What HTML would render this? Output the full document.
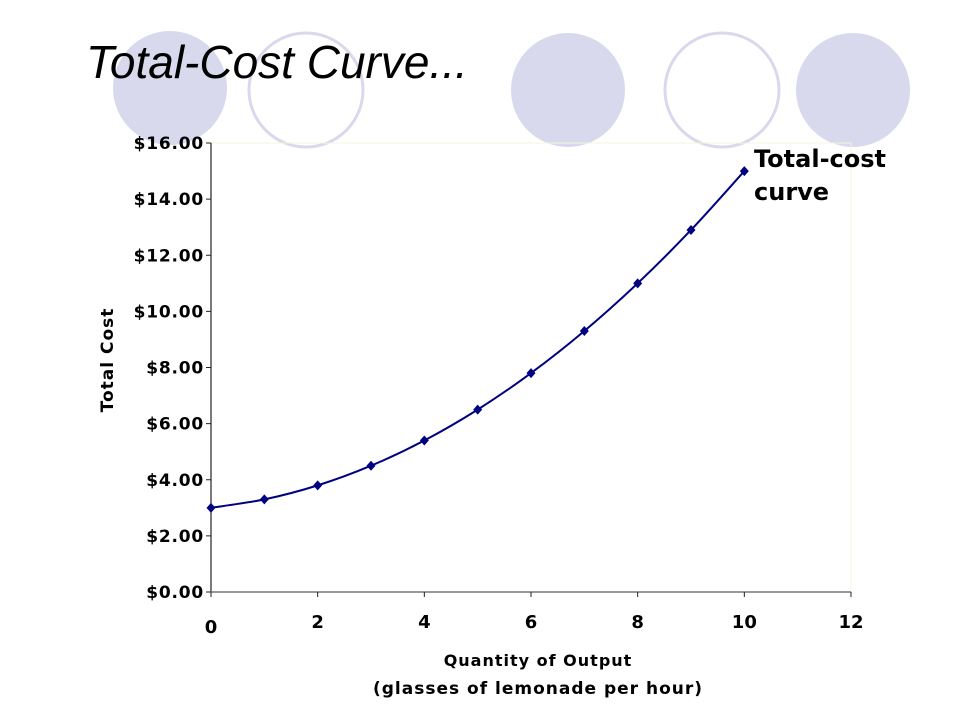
<!DOCTYPE html>
<html><head><meta charset="utf-8"><style>
body{margin:0;background:#fff;width:960px;height:720px;overflow:hidden}
svg{display:block}
text{font-family:"DejaVu Sans","Liberation Sans",sans-serif;font-weight:bold}
</style></head><body>
<svg width="960" height="720">
<g>
<circle cx="170" cy="88" r="57" fill="#d9d9ee"/>
<circle cx="306" cy="90" r="57" fill="none" stroke="#d9d9ee" stroke-width="3"/>
<circle cx="568" cy="90" r="57" fill="#d9d9ee"/>
<circle cx="722" cy="90" r="57" fill="none" stroke="#d9d9ee" stroke-width="3"/>
<circle cx="853" cy="90" r="57" fill="#d9d9ee"/>
</g>
<text x="86" y="78" font-size="46" font-style="italic" style="font-family:'Liberation Sans',sans-serif;font-weight:normal">Total-Cost Curve...</text>
<g id="chart"></g>
<text x="754" y="167" font-size="24">Total-cost</text>
<text x="754" y="200" font-size="24">curve</text>
<text x="113" y="360" font-size="17" letter-spacing="1" text-anchor="middle" transform="rotate(-90 113 360)">Total Cost</text>
<text x="538" y="666" font-size="16" letter-spacing="1" text-anchor="middle">Quantity of Output</text>
<text x="538" y="694" font-size="17" letter-spacing="1" text-anchor="middle">(glasses of lemonade per hour)</text>
</svg>
<script>
const xValues=[0,1,2,3,4,5,6,7,8,9,10];
const costValues=[3.0,3.3,3.8,4.5,5.4,6.5,7.8,9.3,11.0,12.9,15.0];
const yTicks=[0,2,4,6,8,10,12,14,16];
const xTicks=[0,2,4,6,8,10,12];
const NS="http://www.w3.org/2000/svg";
const g=document.getElementById('chart');
const X0=211,X1=851,Y0=592,Y1=143;
const sx=v=>X0+(v-0)/(12-0)*(X1-X0);
const sy=v=>Y0-(v-0)/(16-0)*(Y0-Y1);
function mk(t,a){const e=document.createElementNS(NS,t);for(const k in a)e.setAttribute(k,a[k]);g.appendChild(e);return e;}
let e=mk('line',{x1:X0,y1:Y1,x2:X1,y2:Y1,stroke:'#f4f4dc','stroke-width':1});


e=mk('line',{x1:X1,y1:Y1,x2:X1,y2:Y0,stroke:'#f4f4dc','stroke-width':1});


e=mk('line',{x1:X0,y1:Y1,x2:X0,y2:Y0,stroke:'#222','stroke-width':1.2});


e=mk('line',{x1:X0,y1:Y0,x2:X1,y2:Y0,stroke:'#777','stroke-width':1.5});


yTicks.forEach(v=>{
 const y=sy(v);
 let t=mk('line',{x1:X0-5,y1:y,x2:X0,y2:y,stroke:'#222'});
 
 
 let l=mk('text',{x:X0-7,y:y+6,'font-size':17,'letter-spacing':0.8,'text-anchor':'end'});
 l.textContent='$'+v.toFixed(2);
 
 
});
xTicks.forEach(v=>{
 const x=sx(v);
 let t=mk('line',{x1:x,y1:Y0,x2:x,y2:Y0+5,stroke:'#222'});
 
 
 let l=mk('text',{x:x,y:v===0?633:628,'font-size':18,'text-anchor':'middle'});
 l.textContent=v;
 
 
});
const pts=xValues.map((v,i)=>[sx(v),sy(costValues[i])]);
let d='M'+pts[0][0]+','+pts[0][1];
for(let i=0;i<pts.length-1;i++){
 const p0=pts[Math.max(0,i-1)],p1=pts[i],p2=pts[i+1],p3=pts[Math.min(pts.length-1,i+2)];
 const c1=[p1[0]+(p2[0]-p0[0])/6,p1[1]+(p2[1]-p0[1])/6];
 const c2=[p2[0]-(p3[0]-p1[0])/6,p2[1]-(p3[1]-p1[1])/6];
 d+=' C'+c1+' '+c2+' '+p2;
}
e=mk('path',{d:d,fill:'none',stroke:'#000080','stroke-width':2});


pts.forEach(p=>{
 const m=mk('polygon',{points:`${p[0]},${p[1]-5} ${p[0]+4.5},${p[1]} ${p[0]},${p[1]+5} ${p[0]-4.5},${p[1]}`,fill:'#000080'});
 
 
});
</script>
</body></html>
